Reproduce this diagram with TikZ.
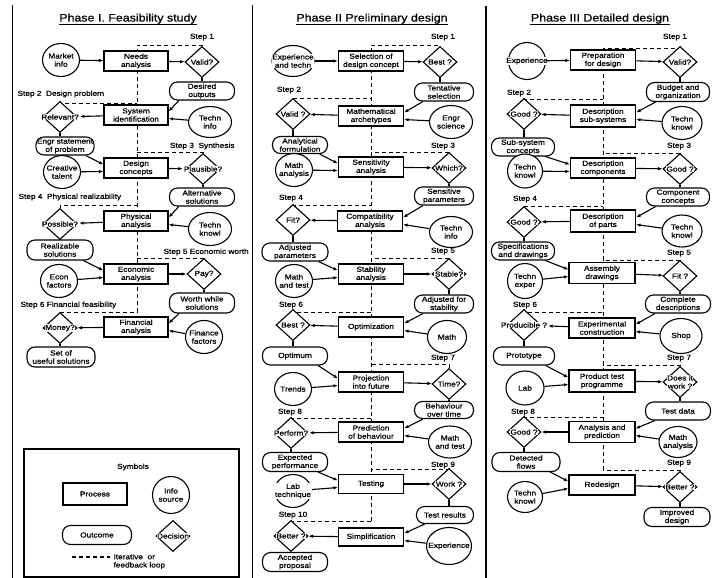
\documentclass[tikz,border=0pt]{standalone}
\usepackage{fontspec}
\setmainfont{Liberation Sans}[FakeStretch=1.15,FakeBold=0.8]
\usetikzlibrary{shapes.geometric,arrows.meta,calc,backgrounds}
\tikzset{
  txt/.style={font=\fontsize{7.2}{8.2}\selectfont, align=center},
  proc/.style={draw, fill=white, rectangle, minimum width=64, minimum height=20, inner sep=1pt, txt},
  outc/.style={draw, fill=white, rectangle, rounded corners=8, minimum width=62, minimum height=18, inner sep=1pt, txt},
  info/.style={draw, fill=white, ellipse, minimum width=37, minimum height=33, inner sep=0pt},
  infor/.style={info, minimum width=43},
  dec/.style={draw, fill=white, diamond, minimum width=34, minimum height=31, inner sep=0pt},
  lbl/.style={txt, fill=white, inner sep=0.6pt},
  arr/.style={-{Latex[length=4.5pt,width=3.4pt]}},
  fb/.style={dash pattern=on 4pt off 3pt},
  steplbl/.style={txt, inner sep=0pt},
  ttl/.style={font=\fontsize{10.8}{12}\selectfont, inner sep=0pt, anchor=base},
}
\newcommand\cxInfo[4][]{\node[info,#1,label={[lbl,name=#2t]center:#4}] (#2) at (#3) {};}
\newcommand\cxDec[3]{\node[dec,label={[lbl,name=#1t]center:#3}] (#1) at (#2) {};}
\newcommand\cxFromR[2]{\draw[arr] ($(#1.south)!0.7!(#1.south west)$) -- ($(#2.east)+(0,-3.5)$);}
\newcommand\cxFromL[2]{\draw[arr] ($(#1.south)!0.7!(#1.south east)$) -- ($(#2.west)+(0,-3.5)$);}
\newcommand\cxInR[2]{\draw[arr] (#1) -- ($(#2.east)+(0,3.5)$);}
\newcommand\cxInL[2]{\draw[arr] (#1) -- ($(#2.west)+(0,3.5)$);}
\newcommand\cxDown[2]{\draw (#1.south) -- (#1.south |- #2.north);}
\begin{document}
\begin{tikzpicture}[x=1pt,y=-1pt,line width=1.1pt]
\useasboundingbox (0,0) rectangle (712,578);
% panel separators
\draw (12.5,5) -- (12.5,578);
\draw (252.5,5) -- (252.5,578);
\draw (486,6) -- (486,578);
% titles
\node[ttl] (T1) at (128,21.5) {Phase I. Feasibility study};
\draw ($(T1.base west)+(0,3)$) -- ($(T1.base east)+(0,3)$);
\node[ttl] (T2) at (372,21.5) {Phase II Preliminary design};
\draw ($(T2.base west)+(0,3)$) -- ($(T2.base east)+(0,3)$);
\node[ttl] (T3) at (600,21.5) {Phase III\ Detailed design};
\draw ($(T3.base west)+(0,3)$) -- ($(T3.base east)+(0,3)$);

% ================= Phase I =================
\cxInfo{mi}{61,60}{Market\\info}
\node[proc] (n1) at (136,61) {Needs\\analysis};
\cxDec{d1}{202,62}{Valid?}
\node[outc, minimum width=65] (o1) at (202,91) {Desired\\outputs};
\node[proc] (n2) at (136,115) {System\\identification};
\cxDec{d2}{60,117}{Relevant?}
\cxInfo[infor,minimum height=31]{ti1}{210,122}{Techn\\info}
\node[outc, minimum width=57] (o2) at (65,146) {Engr statement\\of problem};
\node[proc] (n3) at (136,168) {Design\\concepts};
\cxInfo{ct}{62,172}{Creative\\talent}
\cxDec{d3}{203,169}{Plausible?}
\node[outc, minimum width=65] (o3) at (202,197) {Alternative\\solutions};
\node[proc] (n4) at (136,221) {Physical\\analysis};
\cxDec{d4}{60,224}{Possible?}
\cxInfo[infor]{tk1}{210,229}{Techn\\knowl}
\node[outc, minimum width=66, minimum height=20] (o4) at (60,250) {Realizable\\solutions};
\node[proc] (n5) at (136,274) {Economic\\analysis};
\cxInfo{ef}{59,281}{Econ\\factors}
\cxDec{d5}{204,274}{Pay?}
\node[outc, minimum width=65, minimum height=20] (o5) at (202,303) {Worth while\\solutions};
\node[proc] (n6) at (136,327) {Financial\\analysis};
\cxDec{d6}{60,328}{Money?}
\cxInfo{ff}{204,337}{Finance\\factors}
\node[outc, minimum width=68, minimum height=20] (o6) at (61,357) {Set of\\useful solutions};

\node[steplbl] (s11) at (202,37) {Step 1};
\node[steplbl,anchor=west] (s12) at (17,94) {Step 2~ Design problem};
\node[steplbl,anchor=east] (s13) at (235,146) {Step 3~ Synthesis};
\node[steplbl,anchor=west] (s14) at (18,197) {Step 4~ Physical realizability};
\node[steplbl,anchor=west] (s15) at (163,252) {Step 5 Economic worth};
\node[steplbl,anchor=west] (s16) at (20,305) {Step 6 Financial feasibility};

\draw[arr] (mi) -- (n1);
\draw[arr] (n1) -- (d1);
\cxDown{d1}{o1}
\cxFromR{o1}{n2}
\cxInR{ti1}{n2}
\draw[arr] (n2) -- (d2t);
\cxDown{d2}{o2}
\cxFromL{o2}{n3}
\cxInL{ct}{n3}
\draw[arr] (n3) -- (d3t);
\cxDown{d3}{o3}
\cxFromR{o3}{n4}
\cxInR{tk1}{n4}
\draw[arr] (n4) -- (d4t);
\cxDown{d4}{o4}
\cxFromL{o4}{n5}
\cxInL{ef}{n5}
\draw[arr] (n5) -- (d5);
\cxDown{d5}{o5}
\cxFromR{o5}{n6}
\cxInR{ff}{n6}
\draw[arr] (n6) -- (d6);
\cxDown{d6}{o6}

% ================= Phase II =================
\cxInfo[minimum width=42,minimum height=31]{e1}{293,61}{Experience\\and techn}
\node[proc, minimum width=65] (p1) at (371,61) {Selection of\\design concept};
\cxDec{b1}{440,62}{Best ?}
\node[outc, minimum width=59] (t1) at (444,92) {Tentative\\selection};
\node[proc, minimum width=65] (p2) at (371,116) {Mathematical\\archetypes};
\cxDec{v2}{293,114}{Valid ?}
\cxInfo[infor]{es}{451,122}{Engr\\science}
\node[outc, minimum width=55, minimum height=17] (af) at (300,145) {Analytical\\formulation};
\node[proc, minimum width=65] (p3) at (371,167) {Sensitivity\\analysis};
\cxInfo{ma}{294,170}{Math\\analysis}
\cxDec{w3}{449,168}{Which?}
\node[outc, minimum width=59] (sp) at (444,196) {Sensitive\\parameters};
\node[proc, minimum width=65] (p4) at (370,221) {Compatibility\\analysis};
\cxDec{f4}{293,220}{Fit?}
\cxInfo[infor,minimum height=31]{ti2}{451,232}{Techn\\info}
\node[outc, minimum width=66] (ap) at (295,252) {Adjusted\\parameters};
\node[proc, minimum width=65] (p5) at (371,274) {Stability\\analysis};
\cxInfo{mt}{294,281}{Math\\and test}
\cxDec{s5}{449,274}{Stable?}
\node[outc, minimum width=59] (as) at (444,304) {Adjusted for\\stability};
\node[proc, minimum width=65] (p6) at (371,327) {Optimization};
\cxDec{b6}{293,325}{Best ?}
\cxInfo[minimum width=39]{m6}{447,337}{Math}
\node[outc, minimum width=65] (op) at (295,356) {Optimum};
\node[proc, minimum width=65] (p7) at (371,382) {Projection\\into future};
\cxInfo{tr}{293,389}{Trends}
\cxDec{t7}{449,384}{Time?}
\node[outc, minimum width=59, minimum height=17] (bt) at (444,410) {Behaviour\\over time};
\node[proc, minimum width=65] (p8) at (371,432) {Prediction\\of behaviour};
\cxDec{pf}{291,433}{Perform?}
\cxInfo[infor,minimum height=32]{mt2}{450,442}{Math\\and test}
\node[outc, minimum width=65, minimum height=19] (ep) at (295,462) {Expected\\performance};
\node[proc, minimum width=65, minimum height=19] (p9) at (371,484) {Testing};
\cxInfo{lt}{293,491}{Lab\\technique}
\cxDec{w9}{449,484}{Work ?}
\node[outc, minimum width=57, minimum height=17] (tres) at (445,515) {Test results};
\node[proc, minimum width=65, minimum height=18] (p10) at (371,537) {Simplification};
\cxDec{b10}{291,536}{Better ?}
\cxInfo[minimum width=45,minimum height=37]{ex}{449,546}{Experience}
\node[outc, minimum width=65, minimum height=19] (acc) at (295,562) {Accepted\\proposal};

\node[steplbl] (s21) at (443,37) {Step 1};
\node[steplbl] (s22) at (289,90) {Step 2};
\node[steplbl] (s23) at (443,146) {Step 3};
\node[steplbl] (s24) at (291,198) {Step 4};
\node[steplbl] (s25) at (443,251) {Step 5};
\node[steplbl] (s26) at (291,305) {Step 6};
\node[steplbl] (s27) at (443,358) {Step 7};
\node[steplbl] (s28) at (290,412) {Step 8};
\node[steplbl] (s29) at (443,465) {Step 9};
\node[steplbl] (s210) at (293,515) {Step 10};

\draw[arr] (e1) -- (p1);
\draw[arr] (p1) -- (b1);
\cxDown{b1}{t1}
\cxFromR{t1}{p2}
\cxInR{es}{p2}
\draw[arr] (p2) -- (v2);
\cxDown{v2}{af}
\cxFromL{af}{p3}
\cxInL{ma}{p3}
\draw[arr] (p3) -- (w3);
\cxDown{w3}{sp}
\cxFromR{sp}{p4}
\cxInR{ti2}{p4}
\draw[arr] (p4) -- (f4);
\cxDown{f4}{ap}
\cxFromL{ap}{p5}
\cxInL{mt}{p5}
\draw[arr] (p5) -- (s5);
\cxDown{s5}{as}
\cxFromR{as}{p6}
\cxInR{m6}{p6}
\draw[arr] (p6) -- (b6);
\cxDown{b6}{op}
\cxFromL{op}{p7}
\cxInL{tr}{p7}
\draw[arr] (p7) -- (t7);
\cxDown{t7}{bt}
\cxFromR{bt}{p8}
\cxInR{mt2}{p8}
\draw[arr] (p8) -- (pft);
\cxDown{pf}{ep}
\cxFromL{ep}{p9}
\cxInL{lt}{p9}
\draw[arr] (p9) -- (w9);
\cxDown{w9}{tres}
\cxFromR{tres}{p10}
\cxInR{ex}{p10}
\draw[arr] (p10) -- (b10);
\cxDown{b10}{acc}

% ================= Phase III =================
\cxInfo[minimum width=37,minimum height=37]{ex3}{527,61}{Experience}
\node[proc, minimum width=65] (q1) at (603,60) {Preparation\\for design};
\cxDec{v31}{680,62}{Valid?}
\node[outc, minimum width=63, minimum height=19] (bo) at (678,92) {Budget and\\organization};
\node[proc, minimum width=65, minimum height=22] (q2) at (603,116) {Description\\sub-systems};
\cxDec{g2}{524,114}{Good ?}
\cxInfo[minimum width=40]{tk2}{682,123}{Techn\\knowl}
\node[outc, minimum width=63] (sc) at (523,147) {Sub-system\\concepts};
\node[proc, minimum width=65] (q3) at (603,168) {Description\\components};
\cxInfo[minimum width=35,minimum height=34]{tk3}{525,171}{Techn\\knowl}
\cxDec{g3}{680,169}{Good ?}
\node[outc, minimum width=63] (cc) at (678,197) {Component\\concepts};
\node[proc, minimum width=65, minimum height=22] (q4) at (603,221) {Description\\of parts};
\cxDec{g4}{524,222}{Good ?}
\cxInfo[minimum width=40,minimum height=32]{tk4}{682,231}{Techn\\knowl}
\node[outc, minimum width=63] (sd) at (523,251) {Specifications\\and drawings};
\node[proc, minimum width=66, minimum height=21] (q5) at (602,273) {Assembly\\drawings};
\cxInfo[minimum width=35,minimum height=35]{te}{525,281}{Techn\\exper}
\cxDec{f5}{680,276}{Fit ?}
\node[outc, minimum width=65] (cd) at (678,304) {Complete\\descriptions};
\node[proc, minimum width=66] (q6) at (602,328) {Experimental\\construction};
\cxDec{pr}{524,325}{Producible ?}
\cxInfo[minimum width=42,minimum height=35]{sh}{681,336}{Shop}
\node[outc, minimum width=61] (pt) at (524,356) {Prototype};
\node[proc, minimum width=66, minimum height=22] (q7) at (602,381) {Product test\\programme};
\cxInfo[minimum width=38,minimum height=34]{lab}{525,388}{Lab}
\cxDec{dw}{680,382}{Does it\\work ?}
\node[outc, minimum width=65] (td) at (678,411) {Test data};
\node[proc, minimum width=66, minimum height=21] (q8) at (602,432) {Analysis and\\prediction};
\cxDec{g8}{524,432}{Good ?}
\cxInfo[minimum width=38,minimum height=31]{ma3}{678,442}{Math\\analysis}
\node[outc, minimum width=68, minimum height=19] (df) at (526,462) {Detected\\flows};
\node[proc, minimum width=66] (q9) at (602,485) {Redesign};
\cxInfo[minimum width=35,minimum height=31]{tk9}{525,497}{Techn\\knowl}
\cxDec{bb}{680,487}{Better ?}
\node[outc, minimum width=66, minimum height=19] (id) at (677,517) {Improved\\design};

\node[steplbl] (s31) at (675,37) {Step 1};
\node[steplbl] (s32) at (519,93) {Step 2};
\node[steplbl] (s33) at (679,146) {Step 3};
\node[steplbl] (s34) at (525,199) {Step 4};
\node[steplbl] (s35) at (679,253) {Step 5};
\node[steplbl] (s36) at (525,305) {Step 6};
\node[steplbl] (s37) at (679,358) {Step 7};
\node[steplbl] (s38) at (523,412) {Step 8};
\node[steplbl] (s39) at (679,463) {Step 9};

\draw[arr] (ex3) -- (q1);
\draw[arr] (q1) -- (v31);
\cxDown{v31}{bo}
\cxFromR{bo}{q2}
\cxInR{tk2}{q2}
\draw[arr] (q2) -- (g2);
\cxDown{g2}{sc}
\cxFromL{sc}{q3}
\cxInL{tk3}{q3}
\draw[arr] (q3) -- (g3);
\cxDown{g3}{cc}
\cxFromR{cc}{q4}
\cxInR{tk4}{q4}
\draw[arr] (q4) -- (g4);
\cxDown{g4}{sd}
\cxFromL{sd}{q5}
\cxInL{te}{q5}
\draw[arr] (q5) -- (f5);
\cxDown{f5}{cd}
\cxFromR{cd}{q6}
\cxInR{sh}{q6}
\draw[arr] (q6) -- (prt);
\cxDown{pr}{pt}
\cxFromL{pt}{q7}
\cxInL{lab}{q7}
\draw[arr] (q7) -- (dw);
\cxDown{dw}{td}
\cxFromR{td}{q8}
\cxInR{ma3}{q8}
\draw[arr] (q8) -- (g8);
\cxDown{g8}{df}
\cxFromL{df}{q9}
\cxInL{tk9}{q9}
\draw[arr] (q9) -- (bb);
\cxDown{bb}{id}

% ================= Legend =================
\draw (24,449) rectangle (239,577);
\node[txt] (sym) at (133,467) {Symbols};
\node[proc, minimum width=64, minimum height=22] (lp) at (95,494) {Process};
\cxInfo[minimum width=37,minimum height=37]{li}{171,495}{Info\\source}
\node[outc, minimum width=69, minimum height=19] (lo) at (97,535) {Outcome};
\cxDec{ld}{173,536}{Decision}
\coordinate (la) at (72,557);
\coordinate (lb) at (110,557);
\draw[fb] (la) -- (lb);
\node[txt, align=left, anchor=west, inner sep=0pt] (lt2) at (113,561.5) {Iterative~ or\\feedback loop};

% ================= feedback loops =================
\begin{scope}[on background layer]
\draw[fb] (137,312) -- (137,45) -- (d1.north |- 0,45) -- (d1.north);
\draw[fb] (d2.north) |- (137,103);
\draw[fb] (d3.north) |- (137,152);
\draw[fb] (d4.north) |- (137,205);
\draw[fb] (d5.north) |- (137,258);
\draw[fb] (d6.north) |- (137,312);

\draw[fb] (371,521) -- (371,45) -- (b1.north |- 0,45) -- (b1.north);
\draw[fb] (v2.north) |- (371,98);
\draw[fb] (w3.north) |- (371,152);
\draw[fb] (f4.north) |- (371,205);
\draw[fb] (s5.north) |- (371,258);
\draw[fb] (b6.north) |- (371,312);
\draw[fb] (t7.north) |- (371,364);
\draw[fb] (pf.north) |- (371,418);
\draw[fb] (w9.north) |- (371,469);
\draw[fb] (b10.north) |- (371,521);

\draw[fb] (603,470) -- (603,48) -- (v31.north |- 0,48) -- (v31.north);
\draw[fb] (g2.north) |- (603,99);
\draw[fb] (g3.north) |- (603,153);
\draw[fb] (g4.north) |- (603,206);
\draw[fb] (f5.north) |- (603,260);
\draw[fb] (pr.north) |- (603,312);
\draw[fb] (dw.north) |- (603,365);
\draw[fb] (g8.north) |- (603,417);
\draw[fb] (bb.north) |- (603,470);
\end{scope}
\end{tikzpicture}
\end{document}
